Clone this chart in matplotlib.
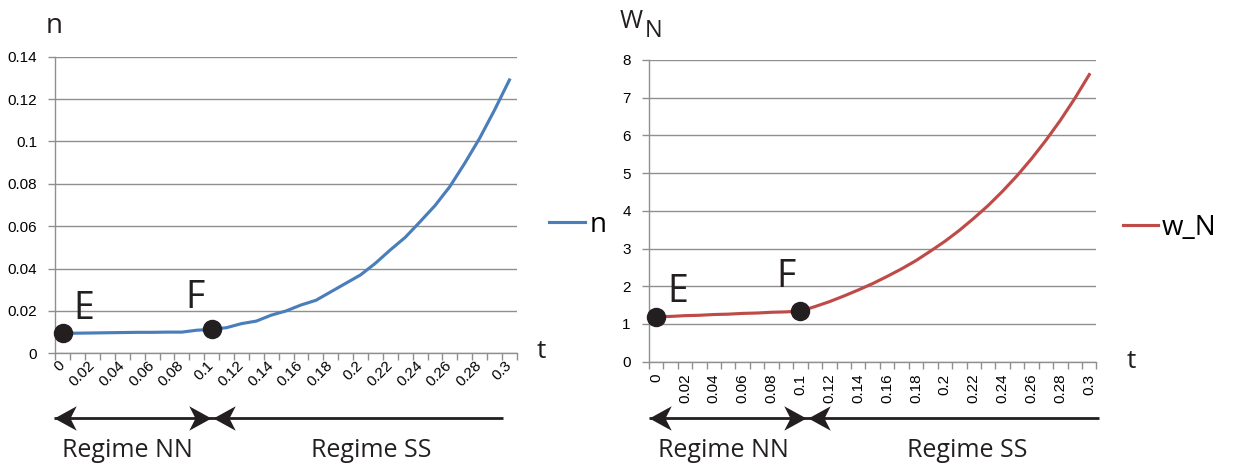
import numpy as np
import matplotlib.pyplot as plt
from matplotlib.path import Path
from matplotlib.transforms import blended_transform_factory

# categories (Excel style category axis)
t_cat = [0, 0.01, 0.02, 0.03, 0.04, 0.05, 0.06, 0.07, 0.08, 0.09, 0.1,
         0.11, 0.12, 0.13, 0.14, 0.15, 0.16, 0.17, 0.18, 0.19, 0.2,
         0.21, 0.22, 0.23, 0.24, 0.25, 0.26, 0.27, 0.28, 0.29, 0.3]
t_labels = ['0', '0.02', '0.04', '0.06', '0.08', '0.1', '0.12', '0.14',
            '0.16', '0.18', '0.2', '0.22', '0.24', '0.26', '0.28', '0.3']

n_vals = [0.0094, 0.0095, 0.0096, 0.0097, 0.0098, 0.0099, 0.0099, 0.0100,
          0.0100, 0.0109, 0.0113, 0.0121, 0.0140, 0.0152, 0.0180, 0.0200,
          0.0228, 0.0250, 0.0290, 0.0330, 0.0370, 0.0425, 0.0488, 0.0547,
          0.0621, 0.0697, 0.0787, 0.0897, 0.1015, 0.1148, 0.1290]
w_vals = [1.19, 1.20, 1.22, 1.23, 1.25, 1.26, 1.28, 1.29, 1.31, 1.32, 1.34,
          1.46, 1.59, 1.74, 1.90, 2.07, 2.26, 2.46, 2.68, 2.93, 3.19,
          3.48, 3.80, 4.14, 4.52, 4.93, 5.38, 5.87, 6.40, 6.98, 7.61]

n_ticks = [0, 0.02, 0.04, 0.06, 0.08, 0.1, 0.12, 0.14]
n_tick_labels = ['0', '0.02', '0.04', '0.06', '0.08', '0.1', '0.12', '0.14']
w_ticks = [0, 1, 2, 3, 4, 5, 6, 7, 8]

iE, iF = 0, 10   # points E and F (t=0, t=0.1)

big = ['Open Sans', 'DejaVu Sans']
small = ['Liberation Sans', 'DejaVu Sans']
plt.rcParams['font.family'] = small

grid_c = '#8f8f8f'
dot_c = '#231f20'

fig = plt.figure(figsize=(12.38, 4.65), dpi=100)
ax1 = fig.add_axes([0.0447, 0.2402, 0.3728, 0.638])
ax2 = fig.add_axes([0.5241, 0.2222, 0.3616, 0.649])

x = np.arange(len(t_cat))

# stealth arrow heads, tip at the origin
head_r = Path([(0, 0), (-1, 0.55), (-0.72, 0), (-1, -0.55), (0, 0)],
              [Path.MOVETO, Path.LINETO, Path.LINETO, Path.LINETO, Path.CLOSEPOLY])
head_l = Path([(0, 0), (1, 0.55), (0.72, 0), (1, -0.55), (0, 0)],
              [Path.MOVETO, Path.LINETO, Path.LINETO, Path.LINETO, Path.CLOSEPOLY])


def style_axis(ax, yticks, ylabels, rot):
    ax.set_xlim(-0.5, len(t_cat) - 0.5)
    ax.set_yticks(yticks)
    ax.set_yticklabels(ylabels)
    ax.set_ylim(yticks[0], yticks[-1])
    ax.set_xticks(x[::2])
    ax.set_xticklabels(t_labels)
    ax.set_xticks(np.arange(-0.5, len(t_cat)), minor=True)
    ax.tick_params(axis='x', which='major', length=0, labelsize=11)
    ax.tick_params(axis='x', which='minor', length=5, color=grid_c, width=1)
    ax.tick_params(axis='y', length=5, color=grid_c, width=1, labelsize=11, pad=8)
    ax.yaxis.grid(True, color=grid_c, lw=1)
    ax.set_axisbelow(True)
    for s in ['top', 'right']:
        ax.spines[s].set_visible(False)
    for s in ['left', 'bottom']:
        ax.spines[s].set_color(grid_c)
        ax.spines[s].set_linewidth(1)
    if rot == 45:
        ax.tick_params(axis='x', which='major', pad=7)
        for lab in ax.get_xticklabels():
            lab.set_rotation(45)
            lab.set_ha('right')
            lab.set_va('center')
            lab.set_rotation_mode('anchor')
    else:
        ax.tick_params(axis='x', which='major', pad=8.5, labelrotation=90)


def regime_arrows(ax, y, x0, xb1, xb2, x1, lab_y, nn_x, ss_x):
    tr = blended_transform_factory(ax.transData, ax.transAxes)
    ax.plot([x0, x1], [y, y], color=dot_c, lw=2, transform=tr, clip_on=False,
            solid_capstyle='butt')
    ax.plot([x0], [y], marker=head_l, ms=32, color=dot_c, mec='none',
            transform=tr, clip_on=False)
    ax.plot([xb1], [y], marker=head_r, ms=32, color=dot_c, mec='none',
            transform=tr, clip_on=False)
    ax.plot([xb2], [y], marker=head_l, ms=32, color=dot_c, mec='none',
            transform=tr, clip_on=False)
    ax.text(nn_x, lab_y, 'Regime NN', transform=ax.transAxes, ha='center',
            va='baseline', fontsize=18, family=big, color='#231f20')
    ax.text(ss_x, lab_y, 'Regime SS', transform=ax.transAxes, ha='center',
            va='baseline', fontsize=18, family=big, color='#231f20')


# ---- left: n ----
style_axis(ax1, n_ticks, n_tick_labels, 45)
ax1.plot(x, n_vals, color='#4a7ebb', lw=2.25, label='n', zorder=3)
ax1.plot([x[iE], x[iF]], [n_vals[iE], n_vals[iF]], 'o', ms=13, color=dot_c,
         zorder=4, clip_on=False)
ax1.annotate('E', (x[iE], n_vals[iE]), xytext=(11, 14), textcoords='offset pixels',
             fontsize=27, family=big, va='baseline', color='#231f20')
ax1.annotate('F', (x[iF], n_vals[iF]), xytext=(-26, 21), textcoords='offset pixels',
             fontsize=27, family=big, va='baseline', color='#231f20')
ax1.text(-0.02, 1.08, 'n', transform=ax1.transAxes, fontsize=20, family=big,
         va='baseline', color='#231f20')
ax1.text(1.042, -0.016, 't', transform=ax1.transAxes, fontsize=19, family=big,
         va='baseline', color='#231f20')
ax1.legend(loc='center left', bbox_to_anchor=(1.07, 0.433), frameon=False,
           borderpad=0, borderaxespad=0, handlelength=1.3, handletextpad=0.15,
           prop={'family': big, 'size': 20})
regime_arrows(ax1, -0.218, -0.62, 9.94, 10.06, 29.6, -0.35, 0.157, 0.684)

# ---- right: w_N ----
style_axis(ax2, w_ticks, [str(v) for v in w_ticks], 90)
ax2.plot(x, w_vals, color='#be4b48', lw=2.25, label='w_N', zorder=3)
ax2.plot([x[iE], x[iF]], [w_vals[iE], w_vals[iF]], 'o', ms=13, color=dot_c,
         zorder=4, clip_on=False)
ax2.annotate('E', (x[iE], w_vals[iE]), xytext=(11, 15), textcoords='offset pixels',
             fontsize=27, family=big, va='baseline', color='#231f20')
ax2.annotate('F', (x[iF], w_vals[iF]), xytext=(-24, 24), textcoords='offset pixels',
             fontsize=27, family=big, va='baseline', color='#231f20')
ax2.text(-0.066, 1.106, 'W', transform=ax2.transAxes, fontsize=18, family=big,
         va='baseline', color='#231f20')
ax2.text(-0.010, 1.076, 'N', transform=ax2.transAxes, fontsize=17, family=big,
         va='baseline', color='#231f20')
ax2.text(1.068, -0.021, 't', transform=ax2.transAxes, fontsize=19, family=big,
         va='baseline', color='#231f20')
ax2.legend(loc='center left', bbox_to_anchor=(1.059, 0.443), frameon=False,
           borderpad=0, borderaxespad=0, handlelength=1.25, handletextpad=0.15,
           prop={'family': big, 'size': 20})
regime_arrows(ax2, -0.188, -0.5, 10.35, 10.5, 30.65, -0.316, 0.166, 0.711)

fig.savefig('out.png', dpi=100)
